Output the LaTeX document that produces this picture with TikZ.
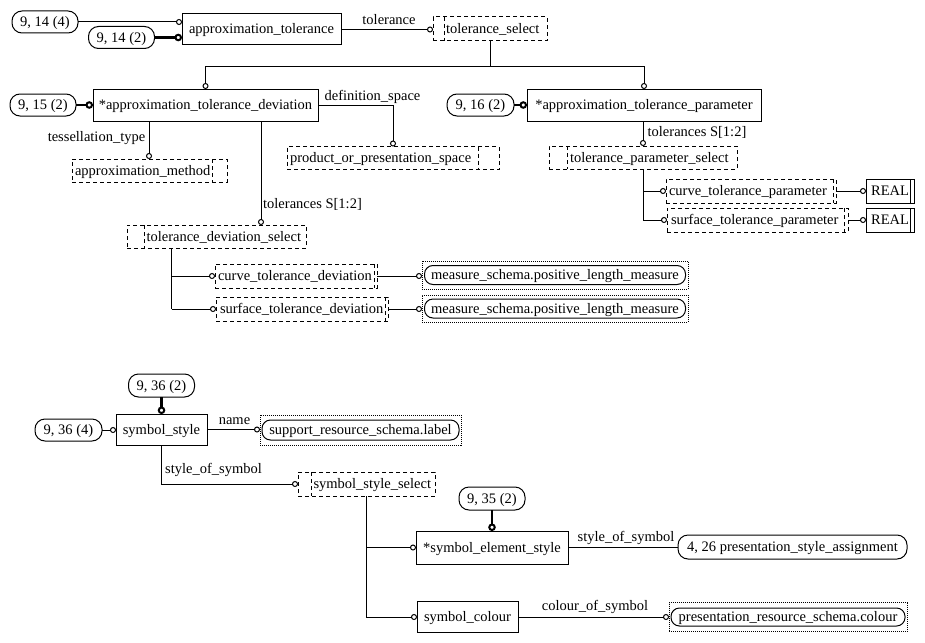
\documentclass[tikz,border=0pt]{standalone}
\usepackage{fontspec}
\setmainfont{Liberation Serif}
\usetikzlibrary{arrows.meta}
\newcommand\mysel[8]{%
  \node[selfr, minimum width=#4pt, minimum height=#5pt] (#1) at (#2,#3) {};
  \draw[seldash] (#6,#3) ++(0,-#5/2) -- ++(0,#5);
  \node[anchor=west] (#1t) at (#7,#3) {#8};}
\newcommand\mydot[8]{%
  \node[dotfr, minimum width=#4pt, minimum height=#5pt] (#1) at (#2,#3) {};
  \node[ipill, minimum width=#6pt, minimum height=#7pt] (#1p) at (#2,#3) {#8};}
\begin{document}
\begin{tikzpicture}[x=1pt,y=-1pt,
  font=\fontsize{14.5}{17}\selectfont,
  every node/.style={inner sep=0pt, outer sep=0pt, text height=10pt, text depth=1pt},
  ent/.style={draw, line width=1pt},
  selfr/.style={draw, line width=1pt, dash pattern=on 4pt off 3pt},
  seldash/.style={line width=1pt, dash pattern=on 4pt off 3pt},
  pill/.style={draw, line width=1pt, rounded corners=10pt},
  ipill/.style={draw, line width=1pt, rounded corners=8.5pt},
  dotfr/.style={draw, line width=0.8pt, dash pattern=on 1pt off 1pt},
  ln/.style={line width=1pt},
  cn/.style={line width=1pt, -{Circle[open, length=6pt, width=6pt, line width=1pt]}},
  tk/.style={line width=2.6pt, -{Circle[open, length=7.5pt, width=7.5pt, line width=2pt]}},
]
\useasboundingbox (0,0) rectangle (925,642);

% ---------- top part ----------
\node[ent, minimum width=159pt, minimum height=31pt] (at) at (261.5,29.5) {approximation\_tolerance};
\node[pill, minimum width=66pt, minimum height=22pt] (p1) at (45,22) {9, 14 (4)};
\node[pill, minimum width=66pt, minimum height=22pt] (p2) at (121.5,37.5) {9, 14 (2)};
\draw[cn] (p1.east) -- (p1.east -| at.west);
\draw[tk] (p2.east) -- (p2.east -| at.west);

\mysel{ts}{490}{29}{114}{24}{444}{446}{tolerance\_select}
\draw[cn] (at.east) -- (at.east -| ts.west);
\node (ltol) at (389,20.5) {tolerance};

\node[ent, minimum width=225pt, minimum height=32pt] (dev) at (205.5,105) {*approximation\_tolerance\_deviation};
\node[pill, minimum width=66pt, minimum height=22pt] (p3) at (43,105) {9, 15 (2)};
\draw[tk] (p3.east) -- (dev.west);

\node[ent, minimum width=234pt, minimum height=32pt] (par) at (644,105) {*approximation\_tolerance\_parameter};
\node[pill, minimum width=67pt, minimum height=22pt] (p4) at (480.5,105) {9, 16 (2)};
\draw[tk] (p4.east) -- (par.west);

\coordinate (jy) at (0,66);
\draw[ln] (ts.south) -- (ts.south |- jy);
\draw[ln] (dev.north |- jy) -- (par.north |- jy);
\draw[cn] (dev.north |- jy) -- (dev.north);
\draw[cn] (par.north |- jy) -- (par.north);

% definition_space
\mysel{pops}{393}{158}{212}{23}{478}{290}{product\_or\_presentation\_space}
\draw[cn] (dev.east) -| (pops.north);
\node (ldef) at (372.5,95.5) {definition\_space};

% tessellation_type
\mysel{am}{149.5}{170.5}{155}{23}{212}{75}{approximation\_method}
\coordinate (amx) at (149,0);
\draw[cn] (dev.south -| amx) -- (am.north -| amx);
\node (ltes) at (96.5,137) {tessellation\_type};

% tolerances (deviation)
\mysel{tds}{216.5}{236.5}{179}{23}{144}{146.5}{tolerance\_deviation\_select}
\coordinate (tdx) at (261,0);
\draw[cn] (dev.south -| tdx) -- (tds.north -| tdx);
\node (ltd) at (312.5,204) {tolerances S[1:2]};

\mysel{ctd}{296}{276}{162}{24}{374}{218}{curve\_tolerance\_deviation}
\mysel{std}{302}{309}{172}{24}{385}{220}{surface\_tolerance\_deviation}
\coordinate (t2x) at (171.5,0);
\draw[ln] (tds.south -| t2x) -- (std.west -| t2x);
\draw[cn] (ctd.west -| t2x) -- (ctd.west);
\draw[cn] (std.west -| t2x) -- (std.west);

\mydot{ma}{555}{275}{266}{28}{261}{19}{measure\_schema.positive\_length\_measure}
\mydot{mb}{555}{308.5}{266}{27}{261}{19}{measure\_schema.positive\_length\_measure}
\draw[cn] (ctd.east) -- (ctd.east -| ma.west);
\draw[cn] (std.east) -- (std.east -| mb.west);

% tolerances (parameter)
\mysel{tps}{643}{157.5}{188}{23}{567}{570}{tolerance\_parameter\_select}
\draw[cn] (par.south -| tps.north) -- (tps.north);
\node (ltp) at (697,132) {tolerances S[1:2]};

\mysel{ctp}{751}{191}{170}{24}{833}{669}{curve\_tolerance\_parameter}
\mysel{stp}{757.5}{220}{181}{24}{844}{671}{surface\_tolerance\_parameter}
\draw[ln] (tps.south) -- (tps.south |- stp.west);
\draw[cn] (tps.south |- ctp.west) -- (ctp.west);
\draw[cn] (tps.south |- stp.west) -- (stp.west);

\node[ent, minimum width=48pt, minimum height=24pt] (ra) at (890,191) {REAL};
\node[ent, minimum width=48pt, minimum height=24pt] (rb) at (890,220) {REAL};
\draw[ln] ([xshift=-3.5pt]ra.north east) -- ([xshift=-3.5pt]ra.south east);
\draw[ln] ([xshift=-3.5pt]rb.north east) -- ([xshift=-3.5pt]rb.south east);
\draw[cn] (ctp.east) -- (ra.west);
\draw[cn] (stp.east) -- (rb.west);

% ---------- bottom part ----------
\node[ent, minimum width=91pt, minimum height=31pt] (ss) at (161.5,429.5) {symbol\_style};
\node[pill, minimum width=66pt, minimum height=23pt] (p5) at (161.5,385.5) {9, 36 (2)};
\node[pill, minimum width=67pt, minimum height=22pt] (p6) at (68.5,430) {9, 36 (4)};
\draw[tk] (p5.south) -- (ss.north);
\draw[cn] (p6.east) -- (p6.east -| ss.west);

\mydot{srl}{360.5}{430}{201}{30}{197}{20}{support\_resource\_schema.label}
\draw[cn] (ss.east) -- (ss.east -| srl.west);
\node (lname) at (234.5,419.5) {name};

\mysel{sss}{366.5}{484}{137}{24}{311}{313.5}{symbol\_style\_select}
\draw[cn] (ss.south) |- (sss.west);
\node (lsos) at (213.5,469) {style\_of\_symbol};

\node[ent, minimum width=152pt, minimum height=33pt] (ses) at (492,547.5) {*symbol\_element\_style};
\node[pill, minimum width=66pt, minimum height=23pt] (p7) at (492,498.5) {9, 35 (2)};
\draw[tk] (p7.south) -- (ses.north);

\node[ent, minimum width=101pt, minimum height=31pt] (sc) at (467.5,617) {symbol\_colour};

\coordinate (t4x) at (366,0);
\draw[ln] (sss.south -| t4x) -- (sc.west -| t4x);
\draw[cn] (ses.west -| t4x) -- (ses.west);
\draw[cn] (sc.west -| t4x) -- (sc.west);

\node[pill, minimum width=229pt, minimum height=24pt] (psa) at (792.5,547) {4, 26 presentation\_style\_assignment};
\draw[ln] (ses.east) -- (ses.east -| psa.west);
\node (lsos2) at (626,537) {style\_of\_symbol};

\mydot{prc}{788}{617}{238}{29}{234}{18}{presentation\_resource\_schema.colour}
\draw[cn] (sc.east) -- (prc.west);
\node (lcos) at (595,605.5) {colour\_of\_symbol};
\end{tikzpicture}
\end{document}
